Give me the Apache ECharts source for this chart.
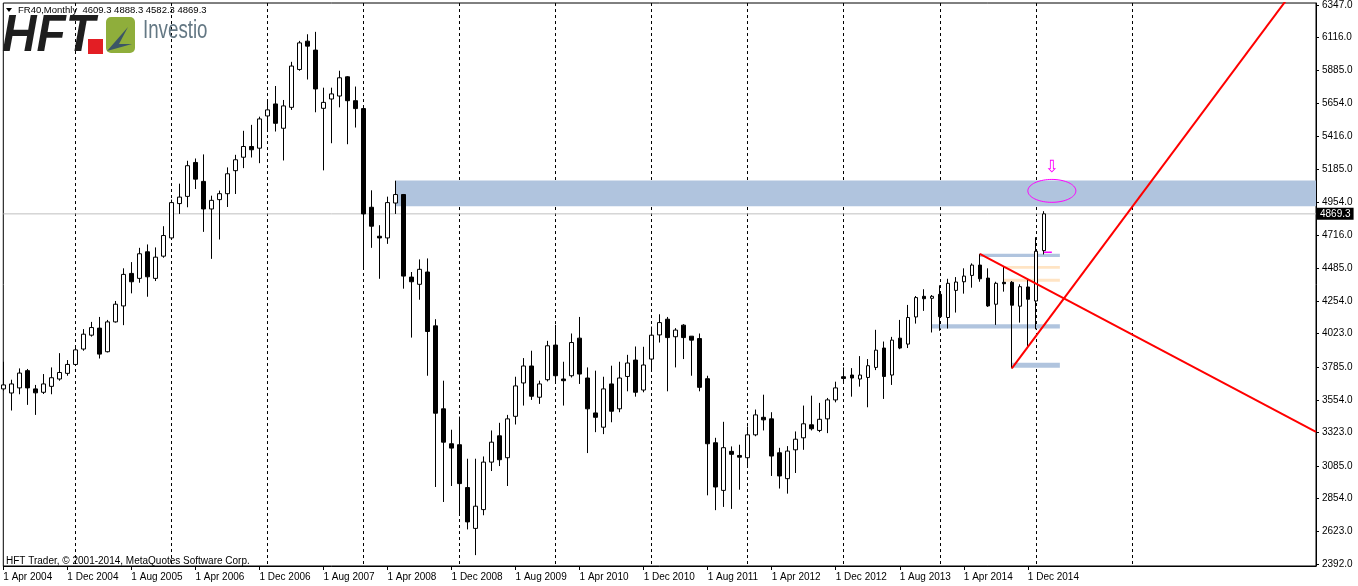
<!DOCTYPE html>
<html><head><meta charset="utf-8">
<script src="https://cdn.jsdelivr.net/npm/echarts@6/dist/echarts.min.js"></script>
<style>html,body{margin:0;padding:0;background:#fff}#c{width:1358px;height:586px}</style>
</head><body><div id="c"></div>
<script>
// ---------------- data ----------------
const symbolName = 'FR40,Monthly';
const startYear = 2004, startMonth = 3;          // first bar: 1 Apr 2004
const futureBars = 34;                            // empty months drawn after the last bar
const futureGridBars = 12;                        // yearly grid lines continue this far past the last bar
const monthNames = ['Jan','Feb','Mar','Apr','May','Jun','Jul','Aug','Sep','Oct','Nov','Dec'];

const opens = [3631,3602,3638,3760,3631,3607,3649,3701,3741,3804, 3913,4011,4061,3894,4105,4218,4448,4413,4601,4413,
 4570,4699,4942,4993,5233,5099,4904,4970,5012,5175, 5270,5346,5334,5562,5647,5475,5623,5891,6091,6028,
 5616,5682,5703,5839,5670,5614,4916,4711,4699,4946, 5006,4422,4371,4458,4077,3490,3243,3236,2933,2644,
 2777,3113,3299,3144,3437,3673,3793,3572,3696,3941, 3701,3724,3990,3708,3461,3360,3666,3490,3719,3835,
 3623,3842,4013,4124,4000,4082,4004,3987,3703,3250, 2913,3189,3160,3144,3306,3430,3419,3179,2996,3200,
 3285,3377,3337,3419,3553,3717,3729,3701,3712,3783, 3920,3729,3990,3948,4140,4286,4272,4300,4136,4328,
 4389,4434,4507,4415,4230,4385,4385,4216,4352,4253, 4609.3];
const highs = [3823,3696,3776,3772,3659,3736,3783,3884,3835,3941, 4054,4105,4140,4119,4253,4484,4528,4629,4653,4632,
 4782,4970,5083,5245,5261,5290,4998,5034,5198,5287, 5457,5499,5557,5675,5774,5675,5945,6093,6140,6157,
 5762,5762,5882,5844,5770,5630,5036,4789,4991,5104, 5010,4458,4547,4554,4124,3689,3342,3435,3137,3137,
 3153,3337,3391,3447,3717,3849,3901,3689,3971,4084, 3823,4023,4140,3783,3760,3717,3795,3823,3872,3931,
 3929,4072,4159,4140,4061,4089,4004,4023,3724,3285, 3398,3224,3236,3365,3485,3590,3466,3214,3226,3330,
 3513,3583,3532,3567,3682,3783,3778,3863,3842,4049, 3966,3999,4119,4225,4288,4336,4295,4364,4410,4422,
 4484,4519,4587,4484,4389,4500,4394,4371,4406,4704, 4888.3];
const lows = [3618,3478,3593,3518,3447,3595,3593,3689,3724,3795, 3901,4001,3846,3889,4100,4082,4307,4382,4283,4394,
 4559,4688,4869,4916,5045,4742,4551,4688,4918,5010, 5193,5268,5228,5452,5452,5247,5605,5882,5820,5588,
 5177,5369,5623,5362,5480,4477,4629,4410,4657,4869, 4340,3994,4262,3724,2937,2831,2944,2737,2637,2455,
 2737,3050,3085,2944,3379,3513,3553,3525,3684,3666, 3513,3712,3666,3177,3325,3311,3395,3466,3614,3576,
 3607,3755,3959,3614,3783,3842,3724,3614,2878,2773, 2796,2782,2918,3083,3296,3337,3015,2926,2890,3036,
 3200,3337,3325,3318,3536,3670,3576,3647,3501,3764, 3560,3659,3912,3920,4093,4183,4030,4042,4058,4171,
 4305,4347,4389,4211,4084,4319,3776,4100,3935,4053, 4582.3];
const closes = [3659,3666,3743,3638,3603,3666,3710,3747,3804,3907, 4018,4065,3877,4105,4230,4441,4389,4587,4424,4563,
 4716,4949,4988,5210,5115,4904,4965,5012,5153,5252, 5346,5323,5541,5605,5510,5633,5915,6079,6056,5753,
 5658,5718,5832,5670,5614,4869,4782,4699,4949,5006, 4429,4389,4477,4037,3459,3254,3212,2961,2690,2801,
 3113,3254,3130,3419,3652,3793,3579,3666,3936,3724, 3689,3959,3736,3490,3430,3631,3473,3708,3814,3607,
 3800,4011,4100,3994,4047,3994,3976,3642,3243,2937, 3215,3168,3148,3306,3447,3412,3156,3015,3191,3275,
 3384,3349,3416,3553,3638,3705,3708,3729,3795,3905, 3719,3976,3920,4136,4277,4269,4286,4142,4378,4387,
 4429,4507,4410,4218,4378,4375,4223,4354,4265,4605, 4869.3];

const dateTickLabels = ['1 Apr 2004','1 Dec 2004','1 Aug 2005','1 Apr 2006','1 Dec 2006','1 Aug 2007','1 Apr 2008',
 '1 Dec 2008','1 Aug 2009','1 Apr 2010','1 Dec 2010','1 Aug 2011','1 Apr 2012','1 Dec 2012','1 Aug 2013',
 '1 Apr 2014','1 Dec 2014'];
const priceTickLabels = [6347,6116,5885,5654,5416,5185,4954,4716,4485,4254,4023,3785,3554,3323,3085,2854,2623,2392];
const priceMin = 2378, priceMax = 6361;

// resistance zone [from bar, top price, bottom price] (runs to the right edge)
const resistanceZone = [[49, 5106, 4923]];
// horizontal level bars [from bar, to bar, top price, bottom price]
const blueLevels = [[122, 132, 4587, 4564], [116, 132, 4089, 4058], [126, 132, 3816, 3781]];
const peachLevels = [[125, 132, 4500, 4481], [125, 132, 4410, 4389]];
// trend lines through two anchors [bar, price]
const trendDown = [[122, 4587], [125, 4497]];
const trendUp = [[126, 3776], [128, 3928]];
// target ellipse [centre bar, centre price, half width (bars), half height (price)]
const targetEllipse = [[130.5, 5032, 3.56, 81]];
const targetArrow = [[130.7, 5200]];
const openMarker = [[130, 4597], [131, 4597]];

// ---------------- build ----------------
const nBars = opens.length;
const nCats = nBars + futureBars;
const lastIdx = nCats - 1;
const cats = [];
for (let i = 0; i < nCats; i++) {
  const m = startMonth + i;
  cats.push('1 ' + monthNames[m % 12] + ' ' + (startYear + Math.floor(m / 12)));
}
const candleData = opens.map((o, i) => [o, closes[i], lows[i], highs[i]]);
function extendLine(t) {
  const s = (t[1][1] - t[0][1]) / (t[1][0] - t[0][0]);
  return [t[0], [lastIdx, t[0][1] + s * (lastIdx - t[0][0])]];
}
const last = nBars - 1;
const lastPrice = closes[last];
const titleText = symbolName + '  ' + [opens[last], highs[last], lows[last], closes[last]].map(v => v.toFixed(1)).join(' ');
const FONT = 'Liberation Sans, Arial, sans-serif';

function rectRender(color) {
  return function (params, api) {
    const p1 = api.coord([api.value(0), api.value(2)]);
    const p2 = api.coord([api.value(1), api.value(3)]);
    const cs = params.coordSys;
    const shape = echarts.graphic.clipRectByRect(
      {x: p1[0], y: p1[1], width: p2[0] - p1[0], height: p2[1] - p1[1]},
      {x: cs.x, y: cs.y, width: cs.width, height: cs.height});
    return shape && {type: 'rect', shape: shape, style: {fill: color}};
  };
}

const chart = echarts.init(document.getElementById('c'));
chart.setOption({
  animation: false,
  backgroundColor: '#fff',
  grid: {left: 3.3, top: 1, right: 42, bottom: 20, show: true, borderColor: '#000', borderWidth: 1, backgroundColor: 'transparent'},
  xAxis: {
    type: 'category', data: cats, boundaryGap: false,
    axisLine: {lineStyle: {color: '#000', width: 1}},
    axisTick: {show: true, length: 4, interval: (i, v) => dateTickLabels.includes(v), lineStyle: {color: '#000'}},
    axisLabel: {interval: (i, v) => dateTickLabels.includes(v), formatter: v => dateTickLabels.includes(v) ? v : '',
      align: 'left', margin: 6, fontSize: 10, color: '#000', fontFamily: FONT},
    splitLine: {show: true, interval: (i, v) => v.indexOf(' Jan ') >= 0 && i <= last + futureGridBars,
      lineStyle: {color: '#000', width: 1, type: [3, 3]}}
  },
  yAxis: {
    type: 'value', position: 'right', min: priceMin, max: priceMax, scale: true,
    axisLine: {show: true, lineStyle: {color: '#000'}},
    axisTick: {show: true, length: 3, customValues: priceTickLabels, lineStyle: {color: '#000'}},
    axisLabel: {customValues: priceTickLabels, formatter: v => Number(v).toFixed(1), margin: 6, fontSize: 10, color: '#000', fontFamily: FONT},
    splitLine: {show: false}
  },
  series: [
    {type: 'custom', name: 'zone', z: 1, silent: true, encode: {x: [0, 1], y: [2, 3]},
      data: resistanceZone.map(r => [r[0], lastIdx, r[1], r[2]]), renderItem: rectRender('#b0c4de')},
    {type: 'custom', name: 'blue', z: 1, silent: true, encode: {x: [0, 1], y: [2, 3]},
      data: blueLevels, renderItem: rectRender('#b0c4de')},
    {type: 'custom', name: 'peach', z: 1, silent: true, encode: {x: [0, 1], y: [2, 3]},
      data: peachLevels, renderItem: rectRender('#ffe4c4')},
    {type: 'line', name: 'price', z: 1, silent: true, symbol: 'none',
      data: [[0, lastPrice], [lastIdx, lastPrice]], lineStyle: {color: '#c0c0c0', width: 1},
      endLabel: {show: true, formatter: () => lastPrice.toFixed(1), backgroundColor: '#000', color: '#fff',
        fontSize: 10, fontFamily: FONT, padding: [1, 3, 1, 3], distance: 1}},
    {type: 'candlestick', z: 3, barWidth: 4, data: candleData, silent: true,
      itemStyle: {color: '#fff', color0: '#000', borderColor: '#000', borderColor0: '#000', borderWidth: 1}},
    {type: 'line', z: 4, silent: true, symbol: 'none', data: extendLine(trendDown), lineStyle: {color: '#ff0000', width: 2}},
    {type: 'line', z: 4, silent: true, symbol: 'none', data: extendLine(trendUp), lineStyle: {color: '#ff0000', width: 2}},
    {type: 'line', z: 5, silent: true, symbol: 'none', data: openMarker, lineStyle: {color: '#ff00ff', width: 1.5}},
    {type: 'custom', z: 5, silent: true, encode: {x: 0, y: 1}, data: targetEllipse,
      renderItem: function (params, api) {
        const cx = api.value(0), cy = api.value(1), ax = api.value(2), ay = api.value(3);
        const c = api.coord([cx, cy]);
        const rx = api.coord([cx + ax, cy])[0] - c[0];
        const ry = c[1] - api.coord([cx, cy + ay])[1];
        const pts = [];
        for (let i = 0; i < 72; i++) { const t = i / 72 * Math.PI * 2; pts.push([c[0] + rx * Math.cos(t), c[1] + ry * Math.sin(t)]); }
        return {type: 'polygon', shape: {points: pts}, style: {fill: 'none', stroke: '#ff00ff', lineWidth: 1}};
      }},
    {type: 'custom', z: 5, silent: true, encode: {x: 0, y: 1}, data: targetArrow,
      renderItem: function (params, api) {
        const c = api.coord([api.value(0), api.value(1)]);
        return {type: 'text', x: c[0], y: c[1], style: {text: '\u21e9', fill: '#ff00ff', font: '17px DejaVu Sans', align: 'center', verticalAlign: 'middle'}};
      }}
  ],
  graphic: [
    {type: 'polygon', shape: {points: [[6, 8], [12, 8], [9, 12]]}, style: {fill: '#000'}, z: 100},
    {type: 'text', x: 18, y: 5, style: {text: titleText, font: '9.5px ' + FONT, fill: '#000'}, z: 100},
    {type: 'text', x: 2, y: 11, scaleX: 0.92, style: {text: 'HFT', font: 'italic bold 52px ' + FONT, fill: '#1e1e1e'}, z: 100},
    {type: 'rect', shape: {x: 88, y: 39, width: 15, height: 15}, style: {fill: '#e31e24'}, z: 100},
    {type: 'rect', shape: {x: 106, y: 17, width: 29, height: 36, r: 5}, style: {fill: '#8fae3b'}, z: 100},
    {type: 'polygon', shape: {points: [[107, 51], [128, 27], [119, 44], [132, 44]]}, style: {fill: '#3c5566'}, z: 101},
    {type: 'text', x: 143, y: 18, scaleX: 0.72, style: {text: 'Investio', font: '26px ' + FONT, fill: '#647884'}, z: 100},
    {type: 'text', x: 6, y: 556, style: {text: 'HFT Trader, \u00a9 2001-2014, MetaQuotes Software Corp.', font: '10px ' + FONT, fill: '#000'}, z: 100}
  ]
});
</script></body></html>
